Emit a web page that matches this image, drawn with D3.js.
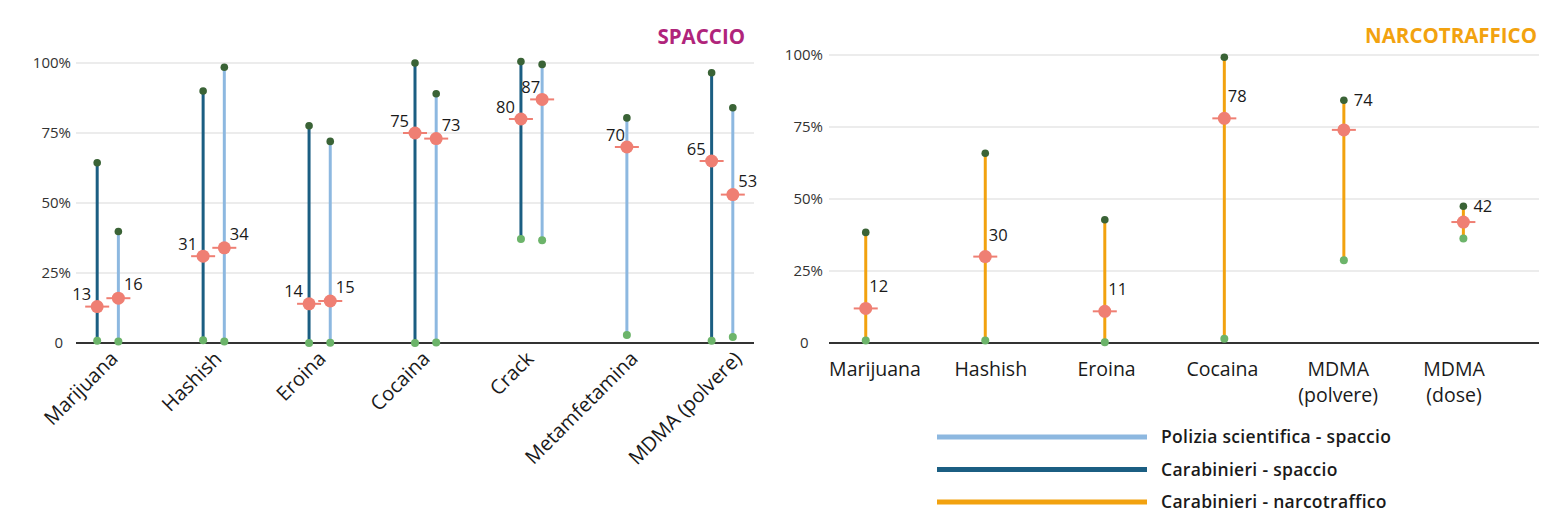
<!DOCTYPE html>
<html>
<head>
<meta charset="utf-8">
<script src="https://cdn.jsdelivr.net/npm/d3@7"></script>
<style>
  html, body { margin: 0; padding: 0; background: #fff; }
  svg { display: block; font-family: "Open Sans", "Noto Sans", sans-serif; }
</style>
</head>
<body>
<svg id="chart" width="1549" height="523"></svg>
<script>
// ---------- DATA ----------
const yTicks = [0, 25, 50, 75, 100];

// SPACCIO (left panel)
const spaccioCategories = ["Marijuana", "Hashish", "Eroina", "Cocaina", "Crack", "Metamfetamina", "MDMA (polvere)"];
const carabSpaccioMin = [0.8, 1.0, 0.0, 0.0, 37.1, null, 0.8];
const carabSpaccioMax = [64.4, 90.0, 77.6, 100.0, 100.5, null, 96.5];
const carabSpaccioMed = [13, 31, 14, 75, 80, null, 65];
const poliziaSpaccioMin = [0.5, 0.5, 0.1, 0.2, 36.7, 2.9, 2.1];
const poliziaSpaccioMax = [39.8, 98.5, 72.0, 89.0, 99.5, 80.4, 84.0];
const poliziaSpaccioMed = [16, 34, 15, 73, 87, 70, 53];

// NARCOTRAFFICO (right panel)
const narcoCategories = ["Marijuana", "Hashish", "Eroina", "Cocaina", "MDMA (polvere)", "MDMA (dose)"];
const narcoCategoryLines = [["Marijuana"], ["Hashish"], ["Eroina"], ["Cocaina"], ["MDMA", "(polvere)"], ["MDMA", "(dose)"]];
const narcoMin = [0.9, 0.9, 0.3, 1.5, 28.7, 36.3];
const narcoMax = [38.4, 65.9, 42.8, 99.2, 84.3, 47.5];
const narcoMed = [12, 30, 11, 78, 74, 42];

const legendLabels = ["Polizia scientifica - spaccio", "Carabinieri - spaccio", "Carabinieri - narcotraffico"];

// ---------- STYLE ----------
const C = {
  polizia: "#8db8e0",
  carab: "#1b5e82",
  narco: "#f2a20f",
  topDot: "#3a6336",
  botDot: "#6cb46a",
  med: "#ef7f73",
  grid: "#d9d9d9",
  axis: "#333333",
  text: "#1a1a1a",
  tick: "#333333",
  spaccio: "#b0247b",
  narcoTitle: "#f2a20f"
};

const svg = d3.select("#chart");

// ---------- LEFT PANEL ----------
const L = { left: 76, right: 754, top: 63, bottom: 343 };
const yL = d3.scaleLinear().domain([0, 100]).range([L.bottom, L.top]);

const seriesL = [
  { key: "carab", min: carabSpaccioMin, max: carabSpaccioMax, med: carabSpaccioMed, color: C.carab },
  { key: "polizia", min: poliziaSpaccioMin, max: poliziaSpaccioMax, med: poliziaSpaccioMed, color: C.polizia }
];
// slot layout: each present series gets a slot; 3 empty slots between groups
const marksL = [];
let slot = 0;
spaccioCategories.forEach((cat, i) => {
  seriesL.forEach(s => {
    if (s.med[i] != null) {
      const other = s.key === "polizia" ? carabSpaccioMed[i] : null;
      let side = "left";
      if (s.key === "polizia") side = (other == null || other < s.med[i] - 5) ? "left2" : "right";
      marksL.push({ cat, i, slot, min: s.min[i], max: s.max[i], med: s.med[i], color: s.color, side });
      slot += 1;
    }
  });
  slot += 3;
});
const lastSlot = slot - 4;
const xSlot = d3.scaleLinear().domain([-1, lastSlot + 1]).range([L.left, L.right]);
const xLabL = d3.scalePoint().domain(spaccioCategories).range([119, 743]);

const gL = svg.append("g");

gL.append("g").selectAll("line").data(yTicks.filter(d => d > 0)).join("line")
  .attr("x1", L.left).attr("x2", L.right)
  .attr("y1", d => yL(d)).attr("y2", d => yL(d))
  .attr("stroke", C.grid).attr("stroke-width", 1.2);

gL.append("g").selectAll("text").data(yTicks).join("text")
  .attr("x", d => d === 0 ? 63 : 71)
  .attr("y", d => yL(d) + 5)
  .attr("text-anchor", "end")
  .attr("font-size", 15)
  .attr("fill", C.tick)
  .text(d => d === 0 ? "0" : d + "%");

gL.append("line")
  .attr("x1", L.left).attr("x2", L.right)
  .attr("y1", yL(0)).attr("y2", yL(0))
  .attr("stroke", C.axis).attr("stroke-width", 1.8);

gL.append("g").selectAll("text").data(spaccioCategories).join("text")
  .attr("transform", d => `translate(${xLabL(d)},${L.bottom + 17}) rotate(-45)`)
  .attr("text-anchor", "end")
  .attr("font-size", 20)
  .attr("fill", C.text)
  .text(d => d);

function drawMarks(g, marks, xf, y, labelPos) {
  const grp = g.append("g").selectAll("g").data(marks).join("g");
  grp.append("line")
    .attr("x1", d => xf(d)).attr("x2", d => xf(d))
    .attr("y1", d => y(d.min)).attr("y2", d => y(d.max))
    .attr("stroke", d => d.color).attr("stroke-width", 3);
  grp.append("circle")
    .attr("cx", d => xf(d)).attr("cy", d => y(d.max)).attr("r", 3.8)
    .attr("fill", C.topDot);
  grp.append("circle")
    .attr("cx", d => xf(d)).attr("cy", d => y(d.min)).attr("r", 4)
    .attr("fill", C.botDot);
  grp.append("line")
    .attr("x1", d => xf(d) - 12).attr("x2", d => xf(d) + 12)
    .attr("y1", d => y(d.med)).attr("y2", d => y(d.med))
    .attr("stroke", C.med).attr("stroke-width", 2);
  grp.append("circle")
    .attr("cx", d => xf(d)).attr("cy", d => y(d.med)).attr("r", 6.5)
    .attr("fill", C.med);
  grp.append("text")
    .attr("font-size", 16.5)
    .attr("fill", C.text)
    .each(function (d) {
      const p = labelPos(d);
      d3.select(this).attr("x", p.x).attr("y", p.y).attr("text-anchor", p.anchor).text(d.med);
    });
}

drawMarks(gL, marksL, d => xSlot(d.slot), yL, d => {
  const x = xSlot(d.slot), y = yL(d.med);
  if (d.side === "left") return { x: x - 6, y: y - 6.5, anchor: "end" };
  if (d.side === "left2") return { x: x - 2, y: y - 6, anchor: "end" };
  return { x: x + 5.5, y: y - 8, anchor: "start" };
});

svg.append("text")
  .attr("x", 745).attr("y", 44)
  .attr("text-anchor", "end")
  .attr("font-size", 20.5).attr("font-weight", 700)
  .attr("fill", C.spaccio)
  .text("SPACCIO");

// ---------- RIGHT PANEL ----------
const R = { left: 829, right: 1539, top: 55, bottom: 343 };
const yR = d3.scaleLinear().domain([0, 100]).range([R.bottom, R.top]);
const xR = d3.scalePoint().domain(narcoCategories).range([R.left, R.right]).padding(0.47).align(0.327);
const xLabR = d3.scalePoint().domain(narcoCategories).range([875, 1454]);

const gR = svg.append("g");
gR.append("g").selectAll("line").data(yTicks.filter(d => d > 0)).join("line")
  .attr("x1", R.left).attr("x2", R.right)
  .attr("y1", d => yR(d)).attr("y2", d => yR(d))
  .attr("stroke", C.grid).attr("stroke-width", 1.2);
gR.append("g").selectAll("text").data(yTicks).join("text")
  .attr("x", d => d === 0 ? 808.5 : 823)
  .attr("y", d => yR(d) + 5)
  .attr("text-anchor", "end")
  .attr("font-size", 15)
  .attr("fill", C.tick)
  .text(d => d === 0 ? "0" : d + "%");
gR.append("line")
  .attr("x1", R.left).attr("x2", R.right)
  .attr("y1", yR(0)).attr("y2", yR(0))
  .attr("stroke", C.axis).attr("stroke-width", 1.8);

narcoCategories.forEach((cat, i) => {
  gR.append("g").selectAll("text").data(narcoCategoryLines[i]).join("text")
    .attr("x", xLabR(cat))
    .attr("y", (d, k) => 376 + k * 26)
    .attr("text-anchor", "middle")
    .attr("font-size", 19.5)
    .attr("fill", C.text)
    .text(d => d);
});

const marksR = narcoCategories.map((cat, i) => ({ cat, i, min: narcoMin[i], max: narcoMax[i], med: narcoMed[i], color: C.narco }));
drawMarks(gR, marksR, d => xR(d.cat), yR, d => {
  const x = xR(d.cat);
  const ly = yR(d.med) - 16;
  const nearTop = ly - 14 < yR(d.max) + 4;
  return nearTop
    ? { x: x + 10, y: yR(d.max) + 6, anchor: "start" }
    : { x: x + 3.5, y: ly, anchor: "start" };
});

svg.append("text")
  .attr("x", 1537).attr("y", 43)
  .attr("text-anchor", "end")
  .attr("font-size", 20.5).attr("font-weight", 700)
  .attr("fill", C.narcoTitle)
  .text("NARCOTRAFFICO");

// ---------- LEGEND ----------
const legendColors = [C.polizia, C.carab, C.narco];
const legY = d3.scalePoint().domain(legendLabels).range([437, 502]);
const leg = svg.append("g").selectAll("g").data(legendLabels).join("g");
leg.append("line")
  .attr("x1", 937).attr("x2", 1147)
  .attr("y1", d => legY(d)).attr("y2", d => legY(d))
  .attr("stroke", (d, i) => legendColors[i]).attr("stroke-width", 5);
leg.append("text")
  .attr("x", 1161).attr("y", d => legY(d) + 6)
  .attr("font-size", 17.5).attr("font-weight", 600)
  .attr("letter-spacing", 0.3)
  .attr("fill", C.text)
  .text(d => d);
</script>
</body>
</html>
